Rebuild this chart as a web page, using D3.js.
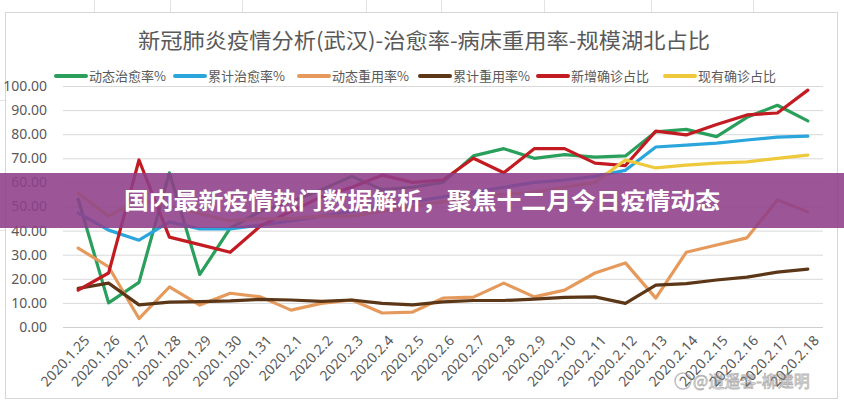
<!DOCTYPE html>
<html><head><meta charset="utf-8">
<script src="https://cdn.jsdelivr.net/npm/d3@7/dist/d3.min.js"></script>
<style>
html,body{margin:0;padding:0;background:#fff;}
svg{display:block;font-family:"Noto Sans CJK SC","Noto Sans",sans-serif;}
</style></head>
<body><svg id="c" width="844" height="400"></svg>
<script>
const title = "新冠肺炎疫情分析(武汉)-治愈率-病床重用率-规模湖北占比";
const bannerText = "国内最新疫情热门数据解析，聚焦十二月今日疫情动态";
const watermark = "@逍遥客-柳建明";
const dates = ["2020.1.25","2020.1.26","2020.1.27","2020.1.28","2020.1.29","2020.1.30","2020.1.31","2020.2.1","2020.2.2","2020.2.3","2020.2.4","2020.2.5","2020.2.6","2020.2.7","2020.2.8","2020.2.9","2020.2.10","2020.2.11","2020.2.12","2020.2.13","2020.2.14","2020.2.15","2020.2.16","2020.2.17","2020.2.18"];
const yTicks = [0,10,20,30,40,50,60,70,80,90,100];
const seriesNames = ["动态治愈率%","累计治愈率%","动态重用率%","累计重用率%","新增确诊占比","现有确诊占比"];
const seriesColors = ["#2a9f5c","#2aa6dc","#e59a5c","#5b3717","#c21b22","#efc93c"];
const dynCure   = [53,10,18.5,64,21.8,41,48,52,57,62.5,57,58,60,71,74,70,71.5,70.5,71,81,82,79,87,92,85.5];
const cumCure   = [47.3,40.2,36,43.6,40.7,40.7,42.3,44,46,48,50,52,54,56,58,60,61,62.5,65,74.7,75.5,76.3,77.6,78.8,79.2];
const dynReuse  = [32.7,25,3.5,16.6,9.1,14,12.5,7,9.8,11.2,5.8,6.2,12,12.4,18.2,12.5,15.3,22.4,26.6,12,31,34,37,52.7,47.8];
const cumReuse  = [16,18.2,9.2,10.3,10.5,10.8,11.5,11.2,10.6,11.2,9.8,9.2,10.4,11,11,11.6,12.3,12.5,9.8,17.4,18,19.5,20.7,22.8,24];
const newShare  = [15.3,22.4,69.3,37.3,34.2,31,42,48,54,58,63,60,61,70,64,74,74,68,67,81.3,79.7,84,88,88.8,98.3];
const curShare  = [55.5,46,52.7,50,47,44,45,45,46,46,48,50,52,54,55,56,58,60,69.3,66,67.2,68,68.5,70,71.3];
const allSeries = [dynCure,cumCure,dynReuse,cumReuse,newShare,curShare];

const svg = d3.select("#c");
const W = 844, H = 400;

// faint spreadsheet grid behind
const bg = svg.append("g").attr("stroke","#e3e3e3").attr("stroke-width",1);
[94,170,242,366,441,544,651,753].forEach(x=>bg.append("line").attr("x1",x+0.5).attr("x2",x+0.5).attr("y1",0).attr("y2",12));
bg.append("line").attr("x1",0).attr("x2",5).attr("y1",100.5).attr("y2",100.5);
bg.append("line").attr("x1",0).attr("x2",5).attr("y1",230.5).attr("y2",230.5);
// chart border
svg.append("rect").attr("x",5.5).attr("y",12.5).attr("width",832).attr("height",386)
  .attr("fill","#fff").attr("stroke","#d6d6d6");

const x = d3.scaleBand().domain(dates).range([63,823]).padding(0);
const cx = d => x(d) + x.bandwidth()/2;
const y = d3.scaleLinear().domain([0,100]).range([327,86]);

// title
svg.append("text").attr("x",424).attr("y",48).attr("text-anchor","middle")
  .attr("font-size",21).attr("fill","#595959").attr("textLength",572).attr("lengthAdjust","spacingAndGlyphs")
  .text(title);

// gridlines
const grid = svg.append("g").attr("transform","translate(63,0)")
  .call(d3.axisLeft(y).tickValues(yTicks).tickSize(-760).tickFormat(""));
grid.select(".domain").remove();
grid.selectAll("line").attr("stroke","#d9d9d9").attr("stroke-width",1);
grid.selectAll("line").filter(d=>d===0).attr("stroke","#cfcfcf");

// y axis labels
const ya = svg.append("g").attr("transform","translate(47,0)")
  .call(d3.axisLeft(y).tickValues(yTicks).tickSize(0).tickFormat(d3.format(".2f")));
ya.select(".domain").remove();
ya.selectAll("text").attr("x",0).attr("font-size",14).attr("fill","#595959")
  .attr("font-family","'Noto Sans','DejaVu Sans',sans-serif");

// x axis labels
const xa = svg.append("g").attr("transform","translate(0,327)")
  .call(d3.axisBottom(x).tickSize(0));
xa.select(".domain").remove();
xa.selectAll("text").attr("font-size",14).attr("fill","#595959")
  .attr("font-family","'Noto Sans','DejaVu Sans',sans-serif")
  .attr("text-anchor","end").attr("dx",0).attr("dy",0)
  .attr("transform","translate(10,12) rotate(-47)");

// lines
const line = d3.line().x((d,i)=>cx(dates[i])).y(d=>y(d));
allSeries.forEach((s,k)=>{
  svg.append("path").datum(s).attr("d",line).attr("fill","none")
    .attr("stroke",seriesColors[k]).attr("stroke-width",3.2)
    .attr("stroke-linejoin","round").attr("stroke-linecap","round");
});

// legend
const legX = [56,175,299,420,538,665];
const lg = svg.append("g");
seriesNames.forEach((n,k)=>{
  lg.append("line").attr("x1",legX[k]).attr("x2",legX[k]+30).attr("y1",76).attr("y2",76)
    .attr("stroke",seriesColors[k]).attr("stroke-width",4).attr("stroke-linecap","round");
  lg.append("text").attr("x",legX[k]+33).attr("y",81).attr("font-size",13).attr("fill","#595959").text(n);
});

// banner
svg.append("rect").attr("x",0).attr("y",173).attr("width",W).attr("height",55)
  .attr("fill","#8e3f8a").attr("fill-opacity",0.88);
svg.append("text").attr("x",422).attr("y",209).attr("text-anchor","middle")
  .attr("font-size",23).attr("font-weight","bold").attr("fill","#fff")
  .attr("textLength",596).attr("lengthAdjust","spacingAndGlyphs")
  .text(bannerText);

// watermark
const wm = svg.append("g").attr("opacity",0.55);
wm.append("circle").attr("cx",683).attr("cy",381).attr("r",8).attr("fill","none").attr("stroke","#888").attr("stroke-width",1.5);
wm.append("text").attr("x",693).attr("y",387).attr("font-size",16).attr("fill","#fff")
  .attr("stroke","#777").attr("stroke-width",0.8).text(watermark);
</script></body></html>
